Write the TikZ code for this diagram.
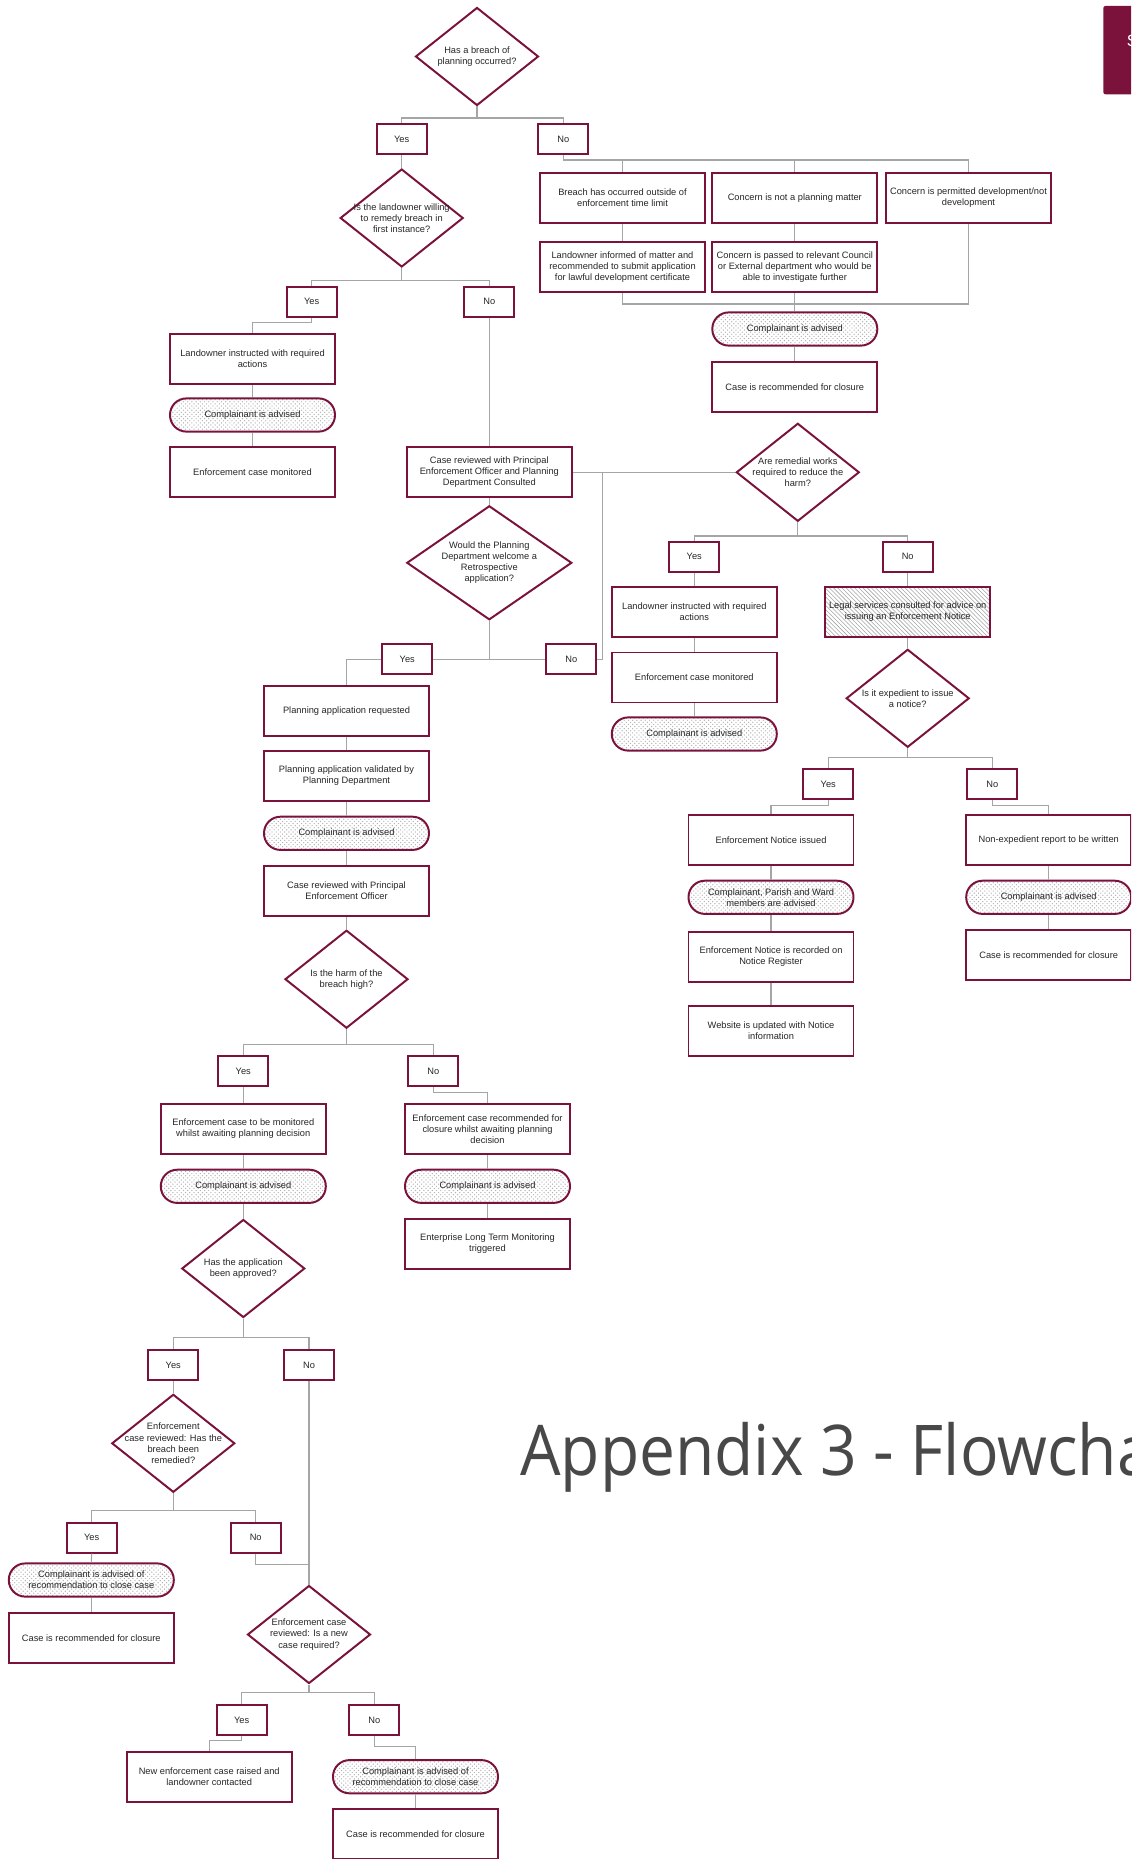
\documentclass[tikz,border=0pt]{standalone}
\usepackage{fontspec}
\setmainfont{Liberation Sans}
\newfontfamily\titlefont{Open Sans}
\usetikzlibrary{patterns,shapes.geometric}
\definecolor{brdr}{RGB}{122,18,60}
\definecolor{lgray}{RGB}{165,165,165}
\definecolor{ttlgray}{RGB}{72,72,72}
\begin{document}
\begin{tikzpicture}[x=0.25mm, y=-0.25mm,
  every node/.style={font=\fontsize{6.6}{7.9}\selectfont, text=black!85},
  box/.style={draw=brdr, line width=1.4pt, minimum width=41.25mm, minimum height=12.5mm, align=center, inner sep=1pt},
  yn/.style={draw=brdr, line width=1.4pt, minimum width=12.5mm, minimum height=7.5mm, inner sep=0pt},
  pill/.style={draw=brdr, line width=1.4pt, rounded corners=4.1mm, minimum width=41.25mm, minimum height=8.3mm, align=center, inner sep=1pt, pattern=crosshatch dots, pattern color=black!30},
  hatchbox/.style={box, pattern=north west lines, pattern color=black!35},
  dia/.style={draw=brdr, line width=1.4pt, shape=diamond, minimum width=30.75mm, minimum height=24.5mm, inner sep=0pt},
  dt/.style={align=center, inner sep=0pt},
  conn/.style={draw=lgray, line width=0.8pt},
]
\useasboundingbox (0,0) rectangle (1131,1859);
\clip (0,0) rectangle (1131,1859);

% ---------- top tab and title ----------
\fill[brdr, rounded corners=1.5pt] (1103.3,6) rectangle (1150,94.3);
\node[text=white, font=\fontsize{11.6}{14}\selectfont, anchor=base west, inner sep=0pt] (tabS) at (1126.5,46.7) {S};
\node[text=ttlgray, font=\titlefont\fontsize{49.8}{60}\selectfont, anchor=base west, inner sep=0pt, xscale=0.915] (title) at (520,1475) {Appendix 3 - Flowchart};

% ---------- nodes ----------
\node[dia, label={[dt,name=d1t]center:{Has a breach of\\planning occurred?}}] (d1) at (477,56.5) {};
\node[yn] (y1) at (401.7,139) {Yes};
\node[yn] (n1) at (563.3,139) {No};
\node[dia, label={[dt,name=d2t]center:{Is the landowner willing\\to remedy breach in\\first instance?}}] (d2) at (401.7,218) {};
\node[yn] (y2) at (311.7,301.7) {Yes};
\node[yn] (n2) at (489.3,301.7) {No};
\node[box] (blia) at (252.5,359) {Landowner instructed with required\\actions};
\node[pill] (pa1) at (252.5,415) {Complainant is advised};
\node[box] (becm) at (252.5,472.3) {Enforcement case monitored};
\node[box] (bcr1) at (489.3,472.3) {Case reviewed with Principal\\Enforcement Officer and Planning\\Department Consulted};

\node[box] (bbo) at (622.5,197.7) {Breach has occurred outside of\\enforcement time limit};
\node[box] (bnp) at (794.8,197.7) {Concern is not a planning matter};
\node[box] (bpd) at (968.5,197.7) {Concern is permitted development/not\\development};
\node[box] (bli) at (622.5,267.3) {Landowner informed of matter and\\recommended to submit application\\for lawful development certificate};
\node[box] (bcp) at (794.8,267.3) {Concern is passed to relevant Council\\or External department who would be\\able to investigate further};
\node[pill] (pa2) at (794.8,329) {Complainant is advised};
\node[box] (bcl1) at (794.8,386.7) {Case is recommended for closure};

\node[dia, label={[dt,name=d3t]center:{Are remedial works\\required to reduce the\\harm?}}] (d3) at (797.8,472.3) {};
\node[yn] (y8) at (694.3,556.7) {Yes};
\node[yn] (n8) at (907.7,556.7) {No};
\node[box] (blia2) at (694.3,612) {Landowner instructed with required\\actions};
\node[box] (becm2) at (694.3,677.5) {Enforcement case monitored};
\node[pill] (pa8) at (694.3,734) {Complainant is advised};
\node[hatchbox] (blegal) at (907.7,612) {Legal services consulted for advice on\\issuing an Enforcement Notice};
\node[dia, label={[dt,name=d9t]center:{Is it expedient to issue\\a notice?}}] (d9) at (907.7,698.3) {};
\node[yn] (y9) at (828.3,784.3) {Yes};
\node[yn] (n9) at (992.3,784.3) {No};
\node[box] (beni) at (771,840) {Enforcement Notice issued};
\node[pill] (pcpw) at (771,897.3) {Complainant, Parish and Ward\\members are advised};
\node[box] (benr) at (771,956.7) {Enforcement Notice is recorded on\\Notice Register};
\node[box] (bweb) at (771,1030.7) {Website is updated with Notice\\information};
\node[box] (bner) at (1048.7,840) {Non-expedient report to be written};
\node[pill] (pa9) at (1048.7,897.3) {Complainant is advised};
\node[box] (bcl4) at (1048.7,955.3) {Case is recommended for closure};

\node[dia, minimum width=41.25mm, minimum height=28.5mm, label={[dt,name=d4t]center:{Would the Planning\\Department welcome a\\Retrospective\\application?}}] (d4) at (489.3,562.8) {};
\node[yn] (y3) at (407.3,659.3) {Yes};
\node[yn] (n3) at (571.3,659.3) {No};
\node[box] (bpar) at (346.5,710.7) {Planning application requested};
\node[box] (bpav) at (346.5,776) {Planning application validated by\\Planning Department};
\node[pill] (pa3) at (346.5,833.3) {Complainant is advised};
\node[box] (bcr2) at (346.5,891) {Case reviewed with Principal\\Enforcement Officer};
\node[dia, label={[dt,name=d5t]center:{Is the harm of the\\breach high?}}] (d5) at (346.5,979.2) {};
\node[yn] (y4) at (243.3,1071.3) {Yes};
\node[yn] (n4) at (433.3,1071.3) {No};
\node[box] (bem) at (243.3,1129) {Enforcement case to be monitored\\whilst awaiting planning decision};
\node[pill] (pa4) at (243.3,1186.3) {Complainant is advised};
\node[dia, label={[dt,name=d6t]center:{Has the application\\been approved?}}] (d6) at (243.3,1268.5) {};
\node[yn] (y5) at (173.3,1365) {Yes};
\node[yn] (n5) at (309,1365) {No};
\node[box] (becr) at (487.5,1129) {Enforcement case recommended for\\closure whilst awaiting planning\\decision};
\node[pill] (pa5) at (487.5,1186.3) {Complainant is advised};
\node[box] (belt) at (487.5,1244) {Enterprise Long Term Monitoring\\triggered};

\node[dia, label={[dt,name=d7t]center:{Enforcement\\case reviewed: Has the\\breach been\\remedied?}}] (d7) at (173.3,1443.3) {};
\node[yn] (y6) at (91.7,1537.7) {Yes};
\node[yn] (n6) at (255.7,1537.7) {No};
\node[pill] (pa6) at (91.3,1580) {Complainant is advised of\\recommendation to close case};
\node[box] (bcl2) at (91.3,1637.7) {Case is recommended for closure};
\node[dia, label={[dt,name=d8t]center:{Enforcement case\\reviewed: Is a new\\case required?}}] (d8) at (309,1634.5) {};
\node[yn] (y7) at (241.7,1720) {Yes};
\node[yn] (n7) at (374.3,1720) {No};
\node[box] (bnew) at (209.2,1777) {New enforcement case raised and\\landowner contacted};
\node[pill] (pa7) at (415.5,1776.7) {Complainant is advised of\\recommendation to close case};
\node[box] (bcl3) at (415.5,1834.3) {Case is recommended for closure};

% ---------- connectors ----------
\coordinate (k1) at (477,118);
\draw[conn] (d1.south) -- (k1) -| (y1.north);
\draw[conn] (k1) -| (n1.north);
\draw[conn] (y1.south) -- (d2.north);
\coordinate (k3) at (401.7,280.7);
\draw[conn] (d2.south) -- (k3) -| (y2.north);
\draw[conn] (k3) -| (n2.north);
\coordinate (k4) at (252.5,322.7);
\draw[conn] (y2.south) |- (k4) -- (blia.north);
\draw[conn] (blia.south) -- (pa1.north);
\draw[conn] (pa1.south) -- (becm.north);
\draw[conn] (n2.south) -- (bcr1.north);

\coordinate (k7) at (563.3,160);
\draw[conn] (n1.south) -- (k7) -| (bpd.north);
\draw[conn] (k7) -| (bbo.north);
\draw[conn] (k7) -| (bnp.north);
\draw[conn] (bbo.south) -- (bli.north);
\draw[conn] (bnp.south) -- (bcp.north);
\coordinate (k9) at (622.5,304);
\draw[conn] (bpd.south) |- (k9) -- (bli.south);
\draw[conn] (bcp.south) -- (pa2.north);
\draw[conn] (pa2.south) -- (bcl1.north);

\draw[conn] (bcr1.east) -- (d3.west);
\coordinate (k12) at (602.3,472.3);
\draw[conn] (n3.east) -| (k12);
\draw[conn] (bcr1.south) -- (d4.north);
\coordinate (k14) at (489.3,659.3);
\draw[conn] (d4.south) -- (k14) -- (y3.east);
\draw[conn] (k14) -- (n3.west);
\draw[conn] (y3.west) -| (bpar.north);
\draw[conn] (bpar.south) -- (bpav.north);
\draw[conn] (bpav.south) -- (pa3.north);
\draw[conn] (pa3.south) -- (bcr2.north);
\draw[conn] (bcr2.south) -- (d5.north);
\coordinate (k17) at (346.5,1044.3);
\draw[conn] (d5.south) -- (k17) -| (y4.north);
\draw[conn] (k17) -| (n4.north);
\draw[conn] (y4.south) -- (bem.north);
\draw[conn] (bem.south) -- (pa4.north);
\draw[conn] (pa4.south) -- (d6.north);
\coordinate (k19) at (243.3,1337.7);
\draw[conn] (d6.south) -- (k19) -| (y5.north);
\draw[conn] (k19) -| (n5.north);
\coordinate (k20) at (487.5,1092.3);
\draw[conn] (n4.south) |- (k20) -- (becr.north);
\draw[conn] (becr.south) -- (pa5.north);
\draw[conn] (pa5.south) -- (belt.north);

\draw[conn] (y5.south) -- (d7.north);
\coordinate (k23) at (173.3,1510.7);
\draw[conn] (d7.south) -- (k23) -| (y6.north);
\draw[conn] (k23) -| (n6.north);
\draw[conn] (y6.south) -- (pa6.north);
\draw[conn] (pa6.south) -- (bcl2.north);
\draw[conn] (n5.south) -- (d8.north);
\coordinate (k26) at (309,1564.3);
\draw[conn] (n6.south) |- (k26);
\coordinate (k27) at (309,1692.7);
\draw[conn] (d8.south) -- (k27) -| (y7.north);
\draw[conn] (k27) -| (n7.north);
\coordinate (k28) at (209.2,1740.7);
\draw[conn] (y7.south) |- (k28) -- (bnew.north);
\coordinate (k29) at (415.5,1746.7);
\draw[conn] (n7.south) |- (k29) -- (pa7.north);
\draw[conn] (pa7.south) -- (bcl3.north);

\coordinate (k30) at (797.8,536);
\draw[conn] (d3.south) -- (k30) -| (y8.north);
\draw[conn] (k30) -| (n8.north);
\draw[conn] (y8.south) -- (blia2.north);
\draw[conn] (blia2.south) -- (becm2.north);
\draw[conn] (becm2.south) -- (pa8.north);
\draw[conn] (n8.south) -- (blegal.north);
\draw[conn] (blegal.south) -- (d9.north);
\coordinate (k33) at (907.7,757.3);
\draw[conn] (d9.south) -- (k33) -| (y9.north);
\draw[conn] (k33) -| (n9.north);
\coordinate (k34) at (771,805.7);
\draw[conn] (y9.south) |- (k34) -- (beni.north);
\draw[conn] (beni.south) -- (pcpw.north);
\draw[conn] (pcpw.south) -- (benr.north);
\draw[conn] (benr.south) -- (bweb.north);
\coordinate (k35) at (1048.7,805.7);
\draw[conn] (n9.south) |- (k35) -- (bner.north);
\draw[conn] (bner.south) -- (pa9.north);
\draw[conn] (pa9.south) -- (bcl4.north);
\end{tikzpicture}
\end{document}
